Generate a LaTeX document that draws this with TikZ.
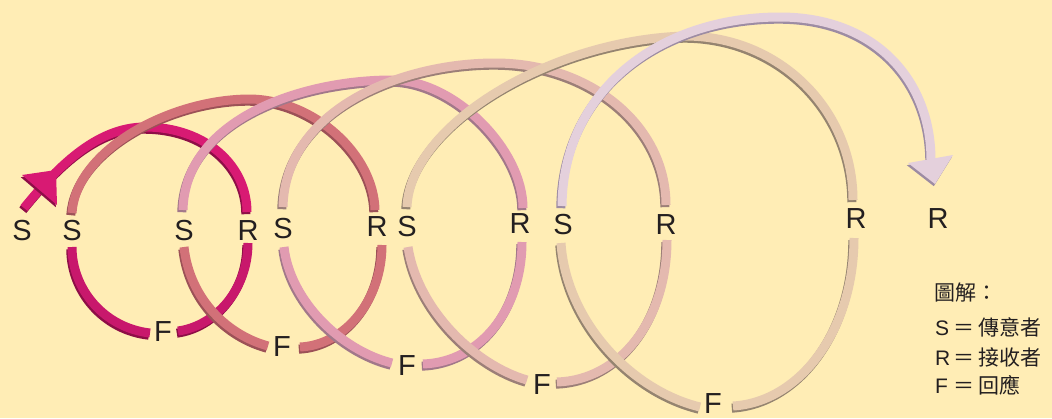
\documentclass[tikz,border=0pt]{standalone}
\usepackage{fontspec}
\setmainfont{Liberation Sans}
\newfontfamily\cjk{Noto Sans CJK TC}
\definecolor{bg}{HTML}{FFEDB5}
\definecolor{txt}{HTML}{231F20}
\definecolor{c1}{HTML}{D81A73}
\definecolor{c1b}{HTML}{C8186C}
\definecolor{s1}{HTML}{8E0E47}
\definecolor{c2}{HTML}{D27178}
\definecolor{s2}{HTML}{9C5157}
\definecolor{c3}{HTML}{E19BB1}
\definecolor{s3}{HTML}{A2788A}
\definecolor{c4}{HTML}{E4B9AF}
\definecolor{s4}{HTML}{9C7F78}
\definecolor{c5}{HTML}{E6CAAE}
\definecolor{s5}{HTML}{958470}
\definecolor{c6}{HTML}{E4D0DC}
\definecolor{s6}{HTML}{9D8CA3}
\tikzset{
  bandline/.style={line width=9pt},
  shadeline/.style={line width=9pt, shift={(-1.2,2.2)}},
  lbl/.style={font=\fontsize{29}{29}\selectfont, text=txt, inner sep=0pt},
  leg/.style={font=\fontsize{21}{21}\selectfont, text=txt, inner sep=0pt, anchor=base west},
}
\newcommand\bandpath[3]{%
  \draw[shadeline,#2] #3;
  \draw[bandline,#1] #3;}
\begin{document}
\begin{tikzpicture}[x=1pt,y=-1pt]
\fill[bg] (0,0) rectangle (1052,418);
\useasboundingbox (0,0) rectangle (1052,418);

% band 1
\bandpath{c1}{s1}{(24,208) .. controls (55,170) and (95,127) .. (145,127) .. controls (205,127) and (247,165) .. (247,212)}
\fill[s1,shift={(-1.2,2.2)}] (22,175) -- (57,205) -- (56,170) -- cycle;
\fill[c1] (22,175) -- (57,205) -- (56,170) -- cycle;
\bandpath{c1b}{s1}{(248,243) .. controls (248,290) and (215,326) .. (178,331)}
\bandpath{c1b}{s1}{(150,333) .. controls (105,328) and (72,290) .. (72,247)}

% band 2
\bandpath{c2}{s2}{(72,213) .. controls (76,150) and (170,99) .. (250,99) .. controls (315,100) and (374,155) .. (375,210)}
\bandpath{c2}{s2}{(382,245) .. controls (382,300) and (345,345) .. (300,347)}
\bandpath{c2}{s2}{(268,346) .. controls (228,335) and (190,300) .. (184,247)}

% band 3
\bandpath{c3}{s3}{(183,210) .. controls (185,120) and (300,80) .. (392,80) .. controls (455,80) and (523,150) .. (523,208)}
\bandpath{c3}{s3}{(522,242) .. controls (522,310) and (480,362) .. (423,364)}
\bandpath{c3}{s3}{(392,363) .. controls (340,350) and (290,300) .. (284,247)}

% band 4
\bandpath{c4}{s4}{(283,207) .. controls (285,110) and (400,63) .. (495,63) .. controls (590,63) and (666,125) .. (666,205)}
\bandpath{c4}{s4}{(667,240) .. controls (667,320) and (620,380) .. (557,382)}
\bandpath{c4}{s4}{(527,380) .. controls (475,365) and (418,310) .. (408,247)}

% band 5
\bandpath{c5}{s5}{(407,207) .. controls (410,125) and (550,40) .. (685,36) .. controls (780,36) and (853,110) .. (853,200)}
\bandpath{c5}{s5}{(854,238) .. controls (854,330) and (800,402) .. (733,406)}
\bandpath{c5}{s5}{(700,407) .. controls (630,390) and (566,320) .. (561,243)}

% band 6
\bandpath{c6}{s6}{(562,206) .. controls (563,90) and (660,17) .. (780,17) .. controls (875,17) and (931,80) .. (931,160)}
\fill[s6,shift={(-1.2,2.2)}] (908,163) -- (953,155) -- (935,184) -- cycle;
\fill[c6] (908,163) -- (953,155) -- (935,184) -- cycle;

% labels
\node[lbl] (sA) at (22,231) {S};
\node[lbl] (sB) at (72,231) {S};
\node[lbl] (sC) at (184,231) {S};
\node[lbl] (rA) at (248,231) {R};
\node[lbl] (sD) at (283,229) {S};
\node[lbl] (rB) at (377,227) {R};
\node[lbl] (sE) at (407,227) {S};
\node[lbl] (rC) at (520,224) {R};
\node[lbl] (sF) at (563,225) {S};
\node[lbl] (rD) at (666,225) {R};
\node[lbl] (rE) at (856,219) {R};
\node[lbl] (rF) at (938,219) {R};
\node[lbl] (fA) at (163,332) {F};
\node[lbl] (fB) at (282,347) {F};
\node[lbl] (fC) at (407,366) {F};
\node[lbl] (fD) at (542,385) {F};
\node[lbl] (fE) at (713,404) {F};

% legend
\node[leg] (lg0) at (934,300) {\cjk 圖解：};
\node[leg] (lg1) at (935,335) {S\hspace{4pt}{\cjk ＝\hspace{4pt}傳意者}};
\node[leg] (lg2) at (935,365) {R\hspace{3pt}{\cjk ＝\hspace{4pt}接收者}};
\node[leg] (lg3) at (935,393) {F\hspace{5pt}{\cjk ＝\hspace{4pt}回應}};
\end{tikzpicture}
\end{document}
